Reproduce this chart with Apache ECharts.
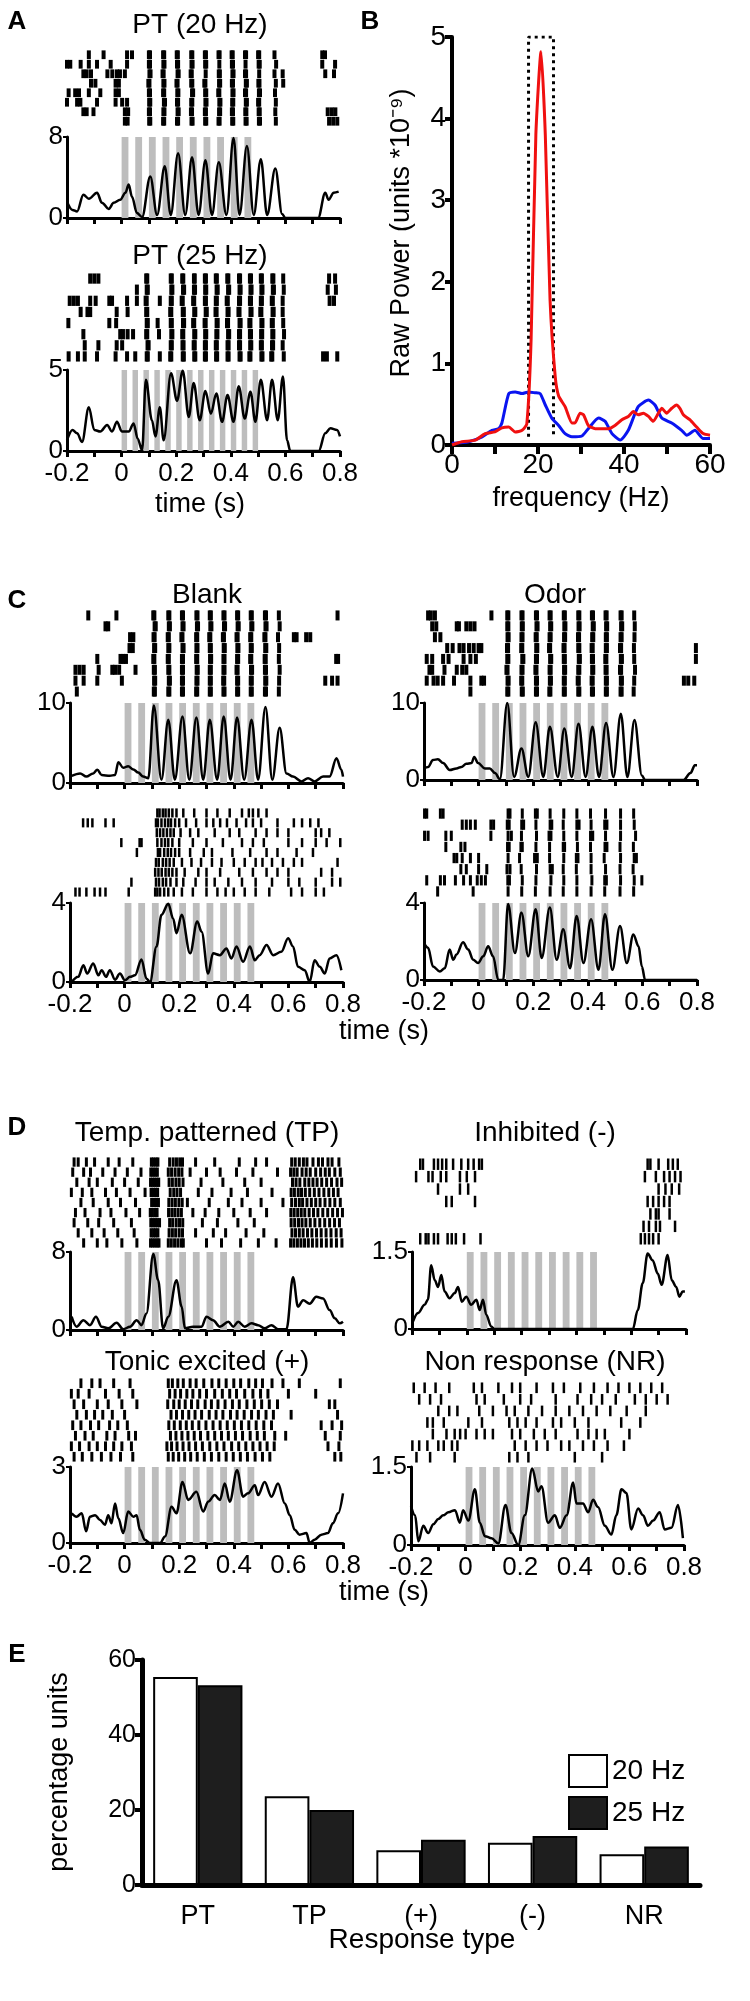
<!DOCTYPE html>
<html>
<head>
<meta charset="utf-8">
<script src="https://cdn.jsdelivr.net/npm/echarts@6.0.0/dist/echarts.min.js"></script>
<style>
html, body { margin: 0; padding: 0; background: #fff; }
#chart { width: 750px; height: 2001px; }
</style>
</head>
<body>
<div id="chart"></div>
<script>
var FONT = '"Liberation Sans", Arial, sans-serif';
var T0 = 0.2; // time axis runs -0.2..0.8 s, plotted as 0..1 so no axis sits on zero

// stimulus pulse onsets (s)
var stim20 = [0, 0.05, 0.1, 0.15, 0.2, 0.25, 0.3, 0.35, 0.4, 0.45];
var stim25 = [0, 0.04, 0.08, 0.12, 0.16, 0.2, 0.24, 0.28, 0.32, 0.36, 0.4, 0.44, 0.48];

// PSTH curves: [time (s), rate]
var psthPT20 = [[-0.2,1.6],[-0.18,0.8],[-0.163,0.65],[-0.14,2.3],[-0.12,1.9],[-0.09,2.5],[-0.072,1.5],[-0.047,0.9],[-0.029,1.5],[-0.005,1.8],[0.014,2.5],[0.026,3.3],[0.038,2.1],[0.056,0.5],[0.075,0.1],[0.105,4.1],[0.13,0.3],[0.158,5.1],[0.18,0.3],[0.207,6.4],[0.233,0.3],[0.258,6.0],[0.282,0.3],[0.307,5.7],[0.331,0.3],[0.356,5.5],[0.384,0.3],[0.41,7.9],[0.432,0.3],[0.459,7.1],[0.484,0.3],[0.51,5.8],[0.533,0.3],[0.563,4.9],[0.588,0.4],[0.6,0],[0.72,0],[0.746,2.5],[0.758,1.8],[0.777,2.5],[0.795,2.6]];
var psthPT25 = [[-0.2,0.66],[-0.18,1.3],[-0.163,1.1],[-0.145,0.56],[-0.12,2.7],[-0.1,1.3],[-0.078,1.2],[-0.053,1.6],[-0.035,1.2],[-0.017,1.8],[0.001,1.2],[0.026,1.2],[0.044,1.7],[0.059,0.76],[0.075,0.04],[0.089,4.4],[0.111,1.9],[0.124,0.9],[0.14,2.7],[0.154,0.66],[0.181,4.8],[0.203,3.1],[0.224,4.96],[0.246,2.1],[0.264,4.2],[0.286,1.9],[0.307,3.7],[0.327,2.3],[0.347,3.55],[0.368,1.8],[0.388,3.45],[0.41,1.8],[0.429,4.0],[0.451,2.0],[0.472,3.65],[0.49,1.8],[0.51,4.4],[0.533,1.9],[0.551,4.4],[0.572,1.9],[0.591,4.6],[0.606,0.66],[0.618,0],[0.722,0],[0.746,1.1],[0.765,1.4],[0.789,1.3],[0.8,0.9]];
var psthBlank = [[-0.194,0.9],[-0.163,1.2],[-0.14,0.8],[-0.115,1.2],[-0.1,1.65],[-0.084,1.0],[-0.054,0.9],[-0.035,1.0],[-0.023,2.6],[-0.005,1.9],[0.013,2.1],[0.032,1.7],[0.05,1.3],[0.068,0.8],[0.087,0.6],[0.107,9.7],[0.135,0.4],[0.16,7.9],[0.184,0.4],[0.212,8.3],[0.237,0.4],[0.263,8.2],[0.288,0.4],[0.312,7.9],[0.339,0.4],[0.363,8.3],[0.388,0.4],[0.412,8.2],[0.438,0.4],[0.465,7.9],[0.489,0.4],[0.516,9.5],[0.541,0.4],[0.568,6.9],[0.593,1.2],[0.617,0.8],[0.648,0.2],[0.672,0.6],[0.696,0.2],[0.727,0.8],[0.751,0.8],[0.776,3.1],[0.794,1.65],[0.8,0.8]];
var psthOdor = [[-0.2,1.5],[-0.185,1.7],[-0.167,2.6],[-0.149,2.7],[-0.13,2.2],[-0.106,1.3],[-0.081,1.5],[-0.063,1.7],[-0.045,2.1],[-0.026,2.2],[-0.016,3.0],[-0.002,2.2],[0.023,1.5],[0.041,1.5],[0.06,0.9],[0.078,0.1],[0.105,10],[0.13,0.4],[0.157,4.1],[0.182,0.4],[0.209,7.5],[0.237,0.4],[0.261,6.9],[0.29,0.4],[0.314,6.7],[0.341,0.4],[0.366,7.3],[0.392,0.4],[0.417,6.9],[0.441,0.4],[0.467,7.4],[0.494,0.4],[0.521,8.6],[0.545,0.4],[0.571,7.8],[0.598,0.6],[0.61,0],[0.751,0],[0.776,0.9],[0.792,1.9],[0.8,1.9]];
var psthBlank2 = [[-0.194,0],[-0.17,0.26],[-0.151,0.85],[-0.137,0.43],[-0.115,0.94],[-0.096,0.34],[-0.084,0.6],[-0.068,0.26],[-0.054,0.6],[-0.035,0.12],[-0.017,0.43],[0.001,0.09],[0.02,0.26],[0.038,0.34],[0.062,1.14],[0.08,0.17],[0.093,0],[0.117,1.8],[0.135,3.4],[0.16,3.96],[0.178,3.2],[0.19,2.47],[0.209,3.4],[0.24,1.45],[0.266,3.06],[0.282,2.55],[0.306,0.43],[0.324,1.45],[0.349,1.36],[0.373,1.7],[0.391,1.19],[0.41,1.8],[0.434,1.02],[0.459,1.8],[0.477,1.1],[0.495,1.36],[0.52,1.87],[0.544,1.36],[0.574,1.53],[0.599,2.21],[0.617,1.8],[0.635,0.77],[0.66,0.6],[0.678,0],[0.696,1.1],[0.715,0.77],[0.733,0.43],[0.751,1.19],[0.776,1.36],[0.794,0.6]];
var psthOdor2 = [[-0.2,1.93],[-0.185,1.67],[-0.167,0.7],[-0.142,0.44],[-0.124,0.61],[-0.106,1.58],[-0.093,1.05],[-0.081,1.32],[-0.057,1.96],[-0.038,1.58],[-0.02,1.05],[-0.002,0.88],[0.017,1.23],[0.035,1.75],[0.053,1.23],[0.072,0],[0.09,0],[0.108,3.95],[0.133,1.4],[0.157,3.5],[0.182,1.23],[0.209,3.68],[0.231,1.14],[0.261,3.77],[0.286,1.05],[0.31,2.63],[0.335,0.61],[0.359,3.33],[0.384,0.88],[0.412,3.16],[0.439,0.53],[0.463,3.42],[0.49,0.53],[0.518,2.8],[0.543,0.88],[0.567,2.37],[0.586,1.75],[0.598,0.7],[0.61,0],[0.8,0]];
var psthTP = [[-0.194,1.36],[-0.176,0.34],[-0.151,1.0],[-0.127,0.5],[-0.105,1.36],[-0.084,0.34],[-0.06,0.17],[-0.029,0.75],[-0.005,0.07],[0.02,0.34],[0.044,1.0],[0.062,0.5],[0.08,1.7],[0.105,7.8],[0.123,5.1],[0.141,0.17],[0.16,1.36],[0.19,5.1],[0.209,2.4],[0.221,0.17],[0.251,0.34],[0.282,0.34],[0.3,1.36],[0.324,1.0],[0.349,0.34],[0.38,0.85],[0.398,0.34],[0.416,0.85],[0.44,0.34],[0.465,0.68],[0.489,0.5],[0.513,0.17],[0.538,0.5],[0.562,0.07],[0.593,0.07],[0.617,5.4],[0.635,2.4],[0.654,3.06],[0.678,2.7],[0.702,3.4],[0.727,3.23],[0.751,2.04],[0.77,1.2],[0.788,0.68],[0.8,0.85]];
var psthInh = [[-0.196,0.15],[-0.178,0.31],[-0.154,0.47],[-0.142,0.57],[-0.13,1.24],[-0.117,0.95],[-0.105,0.82],[-0.093,1.05],[-0.081,0.73],[-0.063,0.6],[-0.044,0.7],[-0.032,0.82],[-0.018,0.53],[-0.002,0.63],[0.016,0.47],[0.035,0.57],[0.047,0.37],[0.059,0.57],[0.071,0.28],[0.089,0.05],[0.101,0],[0.606,0],[0.624,0.37],[0.642,0.89],[0.66,1.47],[0.678,1.34],[0.697,1.08],[0.711,0.86],[0.733,1.44],[0.748,0.95],[0.764,0.82],[0.776,0.63],[0.788,0.73],[0.796,0.73]];
var psthTonic = [[-0.194,1.17],[-0.176,1.04],[-0.157,1.17],[-0.141,0.46],[-0.127,1.04],[-0.108,1.1],[-0.09,0.91],[-0.072,0.72],[-0.06,1.1],[-0.048,0.78],[-0.035,1.56],[-0.023,0.98],[-0.005,0.39],[0.013,1.24],[0.032,1.04],[0.044,1.1],[0.056,0.52],[0.074,0.13],[0.093,0],[0.13,0],[0.148,0.26],[0.172,1.43],[0.19,1.17],[0.212,2.41],[0.233,1.7],[0.263,2.02],[0.288,1.24],[0.306,1.63],[0.33,1.89],[0.349,1.7],[0.367,2.35],[0.385,1.63],[0.412,2.87],[0.434,1.83],[0.452,1.96],[0.477,2.28],[0.489,1.89],[0.513,2.41],[0.538,1.83],[0.562,2.35],[0.587,1.56],[0.605,1.1],[0.623,0.52],[0.641,0.33],[0.666,0.39],[0.678,0],[0.696,0.13],[0.721,0.33],[0.745,0.39],[0.763,0.78],[0.782,1.17],[0.8,1.96]];
var psthNR = [[-0.2,0.75],[-0.185,0.57],[-0.173,0.07],[-0.155,0.37],[-0.137,0.23],[-0.118,0.4],[-0.1,0.5],[-0.082,0.57],[-0.063,0.63],[-0.039,0.67],[-0.021,0.43],[-0.009,0.67],[0.01,0.47],[0.034,1.07],[0.052,0.43],[0.071,0.17],[0.095,0.13],[0.12,0.03],[0.146,0.77],[0.168,0.23],[0.193,0],[0.217,0.57],[0.244,1.47],[0.266,1.03],[0.278,1.13],[0.302,0.43],[0.327,0.57],[0.345,0.33],[0.37,0.57],[0.394,1.2],[0.406,0.8],[0.43,0.8],[0.449,0.63],[0.467,0.87],[0.485,0.73],[0.51,0.37],[0.534,0.2],[0.552,0.57],[0.571,1.07],[0.589,1.0],[0.607,0.3],[0.632,0.7],[0.65,0.57],[0.668,0.37],[0.687,0.47],[0.711,0.63],[0.729,0.3],[0.754,0.33],[0.778,0.77],[0.796,0.13]];

// rasters: spike times (ms) per trial, top trial first
var rasterPT20 = [
 [-120,-66,20,38,100,104,152,156,202,206,255,259,305,309,355,359,403,407,452,456,500,504,560,735,745],
 [-200,-188,-150,-120,-90,-40,20,100,104,153,157,203,207,256,260,306,310,358,404,408,454,502,506,566,735,782],
 [-140,-128,-112,-52,-34,-17,-6,12,102,106,150,154,205,209,253,257,308,356,360,406,410,452,456,504,560,590,746,778],
 [-112,-96,-22,-10,98,102,153,157,201,205,255,259,303,307,357,361,404,408,455,459,501,505,565,592],
 [-194,-170,-156,-120,-78,-22,-10,100,104,152,156,204,208,258,262,306,310,354,358,406,410,452,456,503,507,562],
 [-200,-163,-151,-90,-22,2,20,101,105,155,159,203,207,255,259,307,311,358,362,405,409,455,459,500,504,565],
 [-140,-128,-103,12,24,100,104,153,157,205,209,254,258,305,309,357,361,404,408,453,457,502,506,563,755,770,783],
 [12,22,101,105,152,156,203,207,256,260,306,310,355,359,405,409,454,458,503,507,565,760,775,790]
];
var rasterPT25 = [
 [-115,-100,-85,90,94,180,184,222,226,265,268,305,309,345,349,387,391,430,434,470,474,510,514,552,556,592,760,782],
 [56,92,96,182,186,225,229,265,269,306,310,348,352,390,394,432,436,472,476,512,516,554,558,594,755,785],
 [-190,-175,-160,-115,-95,-45,-35,20,56,88,92,140,180,184,220,224,262,266,305,309,345,349,385,389,430,434,470,474,510,514,550,554,590,762,778],
 [-150,-125,-115,-18,22,90,94,178,182,224,228,266,270,308,312,344,348,388,392,428,432,472,476,508,512,553,557,590],
 [-195,-45,-20,92,96,132,180,184,225,229,262,266,304,308,348,352,386,390,432,436,468,472,512,516,550,554,592],
 [-140,-5,5,22,42,90,94,137,182,186,222,226,266,270,306,310,347,351,390,394,430,434,470,474,511,515,552,556,595],
 [-135,-85,-18,2,95,99,180,184,223,227,264,268,305,309,345,349,388,392,430,434,471,475,510,514,551,555,590],
 [-194,-160,-135,-90,-22,20,50,92,96,140,178,182,224,228,266,270,305,309,346,350,388,392,432,436,468,472,512,516,548,552,594,738,752,790]
];
var rasterBlank = [
 [-133,-30,105,109,160,164,210,214,263,267,312,316,362,366,412,416,462,466,514,518,565,780],
 [-70,-60,110,114,162,166,212,216,265,269,314,318,364,368,414,418,464,468,516,520,568],
 [20,32,106,110,158,162,208,212,262,266,310,314,360,364,410,414,460,464,512,516,562,620,630,665,680],
 [18,30,108,112,160,164,212,216,263,267,312,316,363,367,413,417,462,466,515,519,566],
 [-100,-15,-5,5,105,109,158,162,210,214,262,266,313,317,362,366,412,416,460,464,513,517,565,775,782],
 [-180,-165,-150,-95,-45,-35,-20,40,107,111,160,164,210,214,264,268,312,316,362,366,410,414,463,467,514,518,568],
 [-180,-150,-100,-10,108,112,162,166,210,214,263,267,312,316,361,365,412,416,462,466,515,519,566,735,760,780],
 [-175,107,111,160,164,210,214,262,266,312,316,362,366,412,416,462,466,514,518,565]
];
var rasterOdor = [
 [-185,-175,-160,47,105,109,157,161,210,214,260,264,312,316,365,369,415,419,465,469,520,524,570],
 [-170,-155,-80,-72,-45,-30,-15,105,109,158,162,212,216,262,266,314,318,366,370,418,422,467,471,522,526,572],
 [-160,-140,106,110,157,161,209,213,260,264,313,317,364,368,416,420,466,470,520,524,571],
 [-115,-95,-70,-55,-35,-18,0,10,104,108,156,160,211,215,258,262,311,315,365,369,414,418,466,470,518,522,569,796],
 [-190,-170,-130,-110,-55,-30,-10,105,109,160,164,210,214,262,266,312,316,367,371,415,419,464,468,521,525,570,796],
 [-180,-170,-125,-80,-60,-45,102,106,157,161,208,212,260,264,313,317,365,369,416,420,465,469,518,522,573],
 [-190,-165,-150,-130,-90,-30,10,20,106,110,156,160,210,214,261,265,312,316,363,367,414,418,466,470,521,525,570,752,768,790],
 [-30,105,109,158,162,210,214,259,263,312,316,365,369,415,419,466,470,520,524,568]
];
var rasterBlank2 = [
 [120,128,140,150,162,175,190,215,255,300,340,385,430,455,470,490,520],
 [-152,-135,-118,-70,-40,115,122,135,148,160,170,185,200,225,262,300,325,350,375,410,445,470,500,560,620,650,680,710],
 [118,130,142,155,168,180,205,240,270,330,385,420,480,520,560,600,700,720,750],
 [-12,55,62,120,135,148,160,175,200,250,300,360,430,470,510,600,650,700,740,790],
 [45,122,130,145,158,170,185,200,240,290,320,395,460,520,560,630,690],
 [115,125,140,152,165,180,210,245,280,320,355,400,440,480,505,540,580,620,650,780],
 [112,124,136,150,162,175,190,220,270,300,350,420,470,520,560,600,720,760],
 [25,115,126,140,152,168,190,215,260,300,330,380,430,480,540,600,640,700,760,790],
 [-180,-165,-140,-110,-90,-70,15,112,120,130,145,160,180,210,250,300,340,370,400,440,480,530,610,650,700,730]
];
var rasterOdor2 = [
 [-198,-190,-140,-130,108,115,160,208,215,262,312,360,410,465,520,568],
 [-60,-45,-30,-12,45,55,105,112,158,165,210,262,268,310,360,368,412,462,470,520,570],
 [-198,-185,-120,-100,45,108,120,157,212,258,265,312,360,410,418,465,520,575],
 [-120,-65,-50,106,112,155,160,210,260,310,315,362,410,463,470,518,567],
 [-90,-80,-60,-30,0,108,150,205,215,260,312,358,364,412,460,520,570,578],
 [-65,-45,0,30,104,115,156,212,262,270,310,358,412,465,518,566],
 [-190,-140,-125,-85,-55,-30,-5,10,25,107,113,160,210,265,312,360,415,462,468,520,570,598],
 [-150,-20,108,158,208,262,310,360,412,462,518,568]
];
var rasterTP = [
 [-185,-170,-140,-110,-60,-20,30,98,106,115,122,165,178,190,202,212,260,330,420,480,520,612,625,640,655,668,690,710,725,745,760,785],
 [-190,-150,-125,-80,-35,10,60,96,104,112,120,160,172,185,198,210,240,300,350,410,470,560,608,620,632,650,665,680,700,718,735,750,770,790],
 [-175,-130,-100,-45,0,50,95,103,110,118,125,163,175,188,200,214,280,360,440,500,615,628,642,660,675,690,705,722,740,758,778,795],
 [-195,-155,-120,-70,-30,20,75,97,105,113,121,167,180,192,205,270,320,390,450,540,610,622,636,648,662,678,695,712,730,748,765,782],
 [-160,-115,-60,-15,40,99,108,116,124,162,174,186,199,211,230,310,380,430,500,580,612,626,640,652,668,684,700,716,734,752,770,790],
 [-180,-145,-90,-50,5,55,94,102,111,119,161,173,184,196,208,250,295,345,400,460,520,609,621,634,647,660,676,692,708,726,744,762,780,798],
 [-185,-135,-95,-40,25,96,104,112,120,128,165,176,189,201,213,285,340,415,475,610,623,637,650,664,680,697,715,733,751,769,787],
 [-170,-120,-75,-25,35,97,106,114,122,163,175,187,200,212,260,325,370,445,510,613,626,640,654,670,686,703,720,738,756,775,793],
 [-150,-100,-65,-10,45,95,103,111,119,126,160,171,183,195,207,215,300,355,425,490,555,608,620,633,646,659,673,688,704,721,739,757,776,796]
];
var rasterInh = [
 [-170,-160,-120,-105,-90,-75,-50,-20,5,25,45,55,660,670,700,735,752,770],
 [-185,-140,-125,-95,-75,-25,0,30,650,690,720,740,760,780],
 [-105,-25,5,700,725,748,775],
 [-75,-55,30,660,680,700,720,740],
 [670,690,700,740],
 [645,665,690,705,760],
 [-170,-150,-140,-120,-105,-70,-55,-40,-10,50,635,650,665,680,700]
];
var rasterTonic = [
 [-160,-120,-90,-40,20,160,175,195,215,240,262,290,320,345,372,400,425,455,480,505,540,580,640,790],
 [-195,-170,-130,-70,-20,30,165,185,205,228,250,275,300,330,358,385,410,440,470,498,525,600,700],
 [-185,-150,-100,-60,-10,45,158,180,200,222,245,268,295,318,342,368,395,420,448,475,502,530,560,750,770],
 [-175,-140,-110,-80,-45,0,170,190,212,235,258,282,310,335,360,388,412,438,465,490,518,545,610,780],
 [-190,-160,-125,-95,-55,-25,10,162,182,204,226,248,272,298,324,350,376,402,428,455,482,510,538,720,760,795],
 [-180,-145,-115,-65,-35,15,40,168,188,210,232,255,278,305,330,355,380,406,432,460,486,512,550,590,735,790],
 [-195,-165,-130,-100,-70,-40,-10,25,155,172,192,214,236,260,285,312,338,364,392,418,444,470,496,522,548,745,785],
 [-185,-155,-120,-85,-50,-15,30,160,178,198,220,242,266,292,318,345,372,398,424,450,478,505,532,770,792]
];
var rasterNR = [
 [-190,-150,-110,-60,30,60,120,170,200,260,320,360,420,470,520,560,600,640,680,720],
 [-170,-130,-90,40,70,140,200,240,330,410,460,500,550,620,660,700,740],
 [-100,-60,-30,50,100,150,180,230,280,330,380,430,480,530,590,660],
 [-140,-120,-80,10,60,160,190,220,260,320,350,400,450,570,640],
 [-120,-70,-40,-20,0,40,70,100,170,200,250,290,330,410,450,480,510,600],
 [-195,-170,-140,-100,-80,-50,-30,180,220,260,300,350,380,430,470,520,580],
 [-180,-130,-40,160,190,230,400,500]
];

// panel B: power spectrum [Hz, power]
var specRed = [[0,0],[2.3,0.04],[5.4,0.06],[7.7,0.14],[10,0.16],[11.6,0.21],[13.2,0.22],[14.7,0.16],[16.3,0.18],[17.4,0.26],[18.4,1.3],[19.5,3.8],[20.7,4.82],[21.7,3.8],[22.8,1.78],[24,0.84],[24.8,0.6],[26.3,0.47],[27.9,0.27],[28.6,0.27],[29.8,0.39],[30.6,0.37],[31.7,0.24],[33.3,0.2],[34.8,0.2],[36.4,0.2],[37.9,0.24],[39.5,0.31],[41,0.35],[42.2,0.41],[43.3,0.37],[44.5,0.39],[45.7,0.35],[46.8,0.29],[48,0.39],[48.8,0.45],[49.9,0.39],[51.1,0.45],[52.2,0.49],[53,0.45],[53.8,0.37],[55.3,0.31],[56.9,0.22],[58.4,0.14],[60,0.12]];
var specBlue = [[0,0.02],[3.9,0.04],[7,0.1],[9.3,0.18],[10.8,0.2],[11.6,0.27],[13.2,0.63],[14.7,0.65],[16.3,0.63],[17.8,0.65],[19.3,0.64],[20.5,0.63],[21.7,0.49],[23.2,0.33],[24.8,0.24],[26.3,0.14],[27.9,0.1],[30.2,0.11],[31.7,0.2],[34.1,0.33],[35.6,0.29],[37.2,0.14],[39.1,0.06],[41,0.18],[43.3,0.47],[45.7,0.55],[47.2,0.49],[48.8,0.33],[51.1,0.27],[53.4,0.18],[54.6,0.12],[56.5,0.18],[58.4,0.08],[60,0.08]];
var specBox = [[17.8,0.1],[17.8,5],[23.6,5],[23.6,0.1]];

// panel E
var respTypes = ['PT', 'TP', '(+)', '(-)', 'NR'];
var pct20 = [55.5, 23.7, 9.3, 11.3, 8.2];
var pct25 = [53.3, 20.0, 12.1, 13.1, 10.3];

// raster + PSTH panels (layout in px)
var panels = [
  { raster: rasterPT20, psth: psthPT20, ymax: 8, stim: stim20, sw: 0.025, x: 67, w: 273, rt: 50, rh: 76, pt: 137, ph: 81, labels: false, tw: 4 },
  { raster: rasterPT25, psth: psthPT25, ymax: 5, stim: stim25, sw: 0.02, x: 67, w: 273, rt: 273, rh: 89, pt: 370, ph: 81, labels: true, tw: 4 },
  { raster: rasterBlank, psth: psthBlank, ymax: 10, stim: stim20, sw: 0.025, x: 70, w: 273, rt: 610, rh: 87, pt: 703, ph: 80, labels: false, tw: 4 },
  { raster: rasterOdor, psth: psthOdor, ymax: 10, stim: stim20, sw: 0.025, x: 424, w: 273, rt: 610, rh: 87, pt: 703, ph: 77, labels: false, tw: 4 },
  { raster: rasterBlank2, psth: psthBlank2, ymax: 4, stim: stim20, sw: 0.025, x: 70, w: 273, rt: 808, rh: 89, pt: 903, ph: 79, labels: true, tw: 2.5 },
  { raster: rasterOdor2, psth: psthOdor2, ymax: 4, stim: stim20, sw: 0.025, x: 424, w: 273, rt: 808, rh: 89, pt: 903, ph: 77, labels: true, tw: 3 },
  { raster: rasterTP, psth: psthTP, ymax: 8, stim: stim20, sw: 0.025, x: 70, w: 273, rt: 1157, rh: 91, pt: 1252, ph: 78, labels: false, tw: 3 },
  { raster: rasterInh, psth: psthInh, ymax: 1.5, stim: stim20, sw: 0.025, x: 412, w: 274, rt: 1158, rh: 87, pt: 1252, ph: 77, labels: false, tw: 2.5 },
  { raster: rasterTonic, psth: psthTonic, ymax: 3, stim: stim20, sw: 0.025, x: 70, w: 273, rt: 1378, rh: 84, pt: 1467, ph: 76, labels: true, tw: 3 },
  { raster: rasterNR, psth: psthNR, ymax: 1.5, stim: stim20, sw: 0.025, x: 411, w: 273, rt: 1382, rh: 81, pt: 1467, ph: 78, labels: true, tw: 2.5 }
];

function timeLabel(v) {
  var k = Math.round(v * 10) - 2;
  return k % 2 === 0 ? String(k / 10) : '';
}

var grid = [], xAxis = [], yAxis = [], series = [];

panels.forEach(function (p) {
  // raster
  var gi = grid.length;
  var n = p.raster.length;
  grid.push({ left: p.x, top: p.rt, width: p.w, height: p.rh });
  xAxis.push({ gridIndex: gi, type: 'value', min: 0, max: 1, show: false });
  yAxis.push({ gridIndex: gi, type: 'value', min: -0.5, max: n - 0.5, inverse: true, show: false });
  var pts = [];
  p.raster.forEach(function (trial, k) {
    trial.forEach(function (ms) { pts.push([ms / 1000 + T0, k]); });
  });
  series.push({
    type: 'scatter', xAxisIndex: gi, yAxisIndex: gi, data: pts, silent: true,
    symbol: 'rect', symbolSize: [p.tw, p.rh / n * 0.92],
    itemStyle: { color: '#000', opacity: 1 }
  });

  // psth
  gi = grid.length;
  grid.push({ left: p.x, top: p.pt, width: p.w, height: p.ph });
  xAxis.push({
    gridIndex: gi, type: 'value', min: 0, max: 1, interval: 0.1,
    axisLine: { onZero: false, lineStyle: { color: '#000', width: 3 } },
    axisTick: { length: 6, lineStyle: { color: '#000', width: 3 } },
    axisLabel: { show: p.labels, color: '#000', fontSize: 26, fontFamily: FONT, margin: 10, formatter: timeLabel },
    splitLine: { show: false }
  });
  yAxis.push({
    gridIndex: gi, type: 'value', min: 0, max: p.ymax, interval: p.ymax, position: 'left',
    axisLine: { show: true, onZero: false, lineStyle: { color: '#000', width: 3 } },
    axisTick: { show: true, length: 4, lineStyle: { color: '#000', width: 2 } },
    axisLabel: { color: '#000', fontSize: 26, fontFamily: FONT, margin: 4 },
    splitLine: { show: false }
  });
  var ymax = p.ymax, sw = p.sw;
  series.push({
    type: 'custom', xAxisIndex: gi, yAxisIndex: gi, data: p.stim, silent: true, z: 1,
    renderItem: function (params, api) {
      var t = api.value(0) + T0;
      var a = api.coord([t, 0]);
      var b = api.coord([t + sw, ymax]);
      return { type: 'rect', shape: { x: a[0], y: b[1], width: b[0] - a[0], height: a[1] - b[1] }, style: { fill: '#bdbdbd', stroke: null, lineWidth: 0 } };
    },
    encode: { x: 0 }
  });
  series.push({
    type: 'line', xAxisIndex: gi, yAxisIndex: gi, silent: true, z: 3,
    data: p.psth.map(function (d) { return [d[0] + T0, d[1]]; }),
    smooth: 0.35, smoothMonotone: 'x', symbol: 'none',
    lineStyle: { color: '#000', width: 2.5 }
  });
});

// panel B
var gb = grid.length;
grid.push({ left: 452, top: 37, width: 258, height: 408 });
xAxis.push({
  gridIndex: gb, type: 'value', min: 0, max: 60, interval: 10,
  axisLine: { onZero: false, lineStyle: { color: '#000', width: 4 } },
  axisTick: { length: 9, lineStyle: { color: '#000', width: 4 } },
  axisLabel: { color: '#000', fontSize: 28, fontFamily: FONT, margin: 6,
    formatter: function (v) { return v % 20 === 0 ? String(v) : ''; } },
  splitLine: { show: false }
});
yAxis.push({
  gridIndex: gb, type: 'value', min: 0, max: 5, interval: 1,
  axisLine: { show: true, onZero: false, lineStyle: { color: '#000', width: 4 } },
  axisTick: { show: true, length: 7, lineStyle: { color: '#000', width: 4 } },
  axisLabel: { color: '#000', fontSize: 28, fontFamily: FONT, margin: 6 },
  splitLine: { show: false }
});
series.push({ type: 'line', xAxisIndex: gb, yAxisIndex: gb, data: specBox, silent: true, symbol: 'none',
  lineStyle: { color: '#000', width: 3, type: [3, 4] }, z: 2 });
series.push({ type: 'line', xAxisIndex: gb, yAxisIndex: gb, data: specBlue, silent: true, symbol: 'none',
  smooth: 0.2, lineStyle: { color: '#0a14f0', width: 3 }, z: 3 });
series.push({ type: 'line', xAxisIndex: gb, yAxisIndex: gb, data: specRed, silent: true, symbol: 'none',
  smooth: 0.2, lineStyle: { color: '#f01010', width: 3 }, z: 4 });

// panel E
var ge = grid.length;
grid.push({ left: 142, top: 1660, width: 558, height: 225 });
xAxis.push({
  gridIndex: ge, type: 'category', data: respTypes,
  axisLine: { lineStyle: { color: '#000', width: 5 } },
  axisTick: { interval: 0, length: 14, lineStyle: { color: '#000', width: 4 } },
  axisLabel: { color: '#000', fontSize: 27, fontFamily: FONT, margin: 18 }
});
yAxis.push({
  gridIndex: ge, type: 'value', min: 0, max: 60, interval: 20,
  axisLine: { show: true, lineStyle: { color: '#000', width: 5 } },
  axisTick: { show: true, length: 7, lineStyle: { color: '#000', width: 4 } },
  axisLabel: { color: '#000', fontSize: 25, fontFamily: FONT, margin: 6 },
  splitLine: { show: false }
});
series.push({ name: '20 Hz', type: 'bar', xAxisIndex: ge, yAxisIndex: ge, data: pct20, barGap: '0%', barCategoryGap: '20%',
  itemStyle: { color: '#fff', borderColor: '#000', borderWidth: 2 } });
series.push({ name: '25 Hz', type: 'bar', xAxisIndex: ge, yAxisIndex: ge, data: pct25, barGap: '0%', barCategoryGap: '20%',
  itemStyle: { color: '#1e1e1e', borderColor: '#000', borderWidth: 2 } });

function txt(s, x, y, size, opts) {
  opts = opts || {};
  return {
    type: 'text', x: x, y: y, rotation: opts.rot || 0, z: 10,
    style: {
      text: s, x: 0, y: 0, fill: '#000',
      font: (opts.bold ? 'bold ' : '') + size + 'px ' + FONT,
      align: 'center', verticalAlign: 'middle', textAlign: 'center', textVerticalAlign: 'middle'
    }
  };
}

var texts = [
  txt('A', 17, 22, 26, { bold: true }),
  txt('B', 370, 22, 26, { bold: true }),
  txt('C', 17, 601, 26, { bold: true }),
  txt('D', 17, 1128, 26, { bold: true }),
  txt('E', 17, 1655, 26, { bold: true }),
  txt('PT (20 Hz)', 200, 25, 28),
  txt('PT (25 Hz)', 200, 256, 28),
  txt('time (s)', 200, 505, 27),
  txt('frequency (Hz)', 581, 499, 27),
  txt('Raw Power (units *10\u207B\u2079)', 402, 233, 27, { rot: Math.PI / 2 }),
  txt('Blank', 207, 595, 28),
  txt('Odor', 555, 595, 28),
  txt('time (s)', 384, 1032, 27),
  txt('Temp. patterned (TP)', 207, 1133, 28),
  txt('Inhibited (-)', 545, 1133, 28),
  txt('Tonic excited (+)', 207, 1362, 28),
  txt('Non response (NR)', 545, 1362, 28),
  txt('time (s)', 384, 1593, 27),
  txt('percentage units', 60, 1772, 27, { rot: Math.PI / 2 }),
  txt('Response type', 422, 1940, 28)
];

var chart = echarts.init(document.getElementById('chart'), null, { renderer: 'canvas' });
chart.setOption({
  animation: false,
  backgroundColor: '#fff',
  grid: grid,
  xAxis: xAxis,
  yAxis: yAxis,
  series: series,
  legend: {
    data: [{ name: '20 Hz', icon: 'rect' }, { name: '25 Hz', icon: 'rect' }],
    orient: 'vertical', left: 563, top: 1749,
    itemWidth: 38, itemHeight: 32, itemGap: 8, selectedMode: false,
    textStyle: { color: '#000', fontSize: 28, fontFamily: FONT }
  },
  graphic: { elements: texts }
});
</script>
</body>
</html>
